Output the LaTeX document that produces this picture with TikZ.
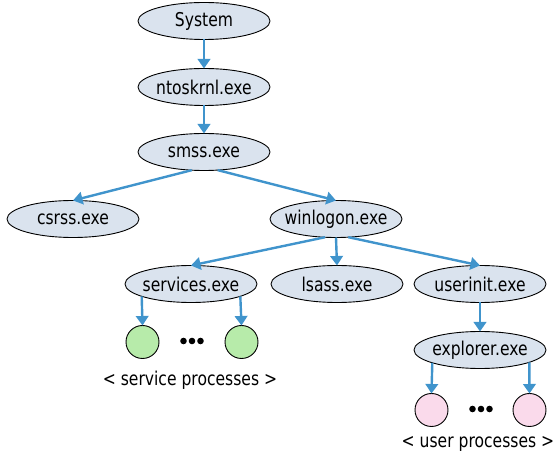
\documentclass[tikz,border=0pt]{standalone}
\usepackage{fontspec}
\setmainfont{DejaVu Sans}[FakeStretch=0.82]
\usetikzlibrary{shapes.geometric,arrows.meta}

\definecolor{arrowblue}{RGB}{64,148,204}
\definecolor{procfill}{RGB}{218,227,238}
\definecolor{svcfill}{RGB}{183,235,170}
\definecolor{userfill}{RGB}{250,218,235}

% zero-width label so the ellipse size comes from the minimum sizes only
\newcommand{\proclabel}[1]{\makebox[0pt]{#1}}

\tikzset{
  proc/.style={ellipse, draw=black, line width=0.9pt, fill=procfill,
    minimum width=132pt, minimum height=37pt, inner sep=0pt, outer sep=0pt,
    font=\fontsize{19}{22}\selectfont},
  leaf/.style={circle, draw=black, line width=0.9pt, minimum size=33pt,
    inner sep=0pt, outer sep=0pt},
  caption/.style={font=\fontsize{19}{22}\selectfont, inner sep=0pt},
  arr/.style={draw=arrowblue, line width=2.4pt,
    -{Triangle[width=12.5pt,length=9.5pt]}},
  dot/.style={circle, fill=black, inner sep=0pt, minimum size=6.6pt}
}

\begin{document}
\begin{tikzpicture}[x=1pt,y=-1pt]
\useasboundingbox (0,0) rectangle (558,457);

% process tree
\node[proc] (system)   at (204,21)  {\proclabel{System}};
\node[proc] (ntos)     at (204,87)  {\proclabel{ntoskrnl.exe}};
\node[proc] (smss)     at (204,152) {\proclabel{smss.exe}};
\node[proc] (csrss)    at (73,219)  {\proclabel{csrss.exe}};
\node[proc] (winlogon) at (336,219) {\proclabel{winlogon.exe}};
\node[proc] (services) at (191,284) {\proclabel{services.exe}};
\node[proc] (lsass)    at (337,284) {\proclabel{lsass.exe}};
\node[proc] (userinit) at (480,284) {\proclabel{userinit.exe}};
\node[proc] (explorer) at (480,350) {\proclabel{explorer.exe}};

% service processes
\node[leaf, fill=svcfill] (svc1) at (142.5,342) {};
\node[leaf, fill=svcfill] (svc2) at (241.5,342) {};
\node[dot] (sd1) at (183.5,341) {};
\node[dot] (sd2) at (192,341) {};
\node[dot] (sd3) at (200.5,341) {};
\node[caption] (svccap) at (190,380) {< service processes >};

% user processes
\node[leaf, fill=userfill] (usr1) at (431.5,410) {};
\node[leaf, fill=userfill] (usr2) at (529.5,410) {};
\node[dot] (ud1) at (472.5,409) {};
\node[dot] (ud2) at (481,409) {};
\node[dot] (ud3) at (489.5,409) {};
\node[caption] (usrcap) at (478,444) {< user processes >};

% connectors
\draw[arr] (system.south) -- (ntos.north);
\draw[arr] (ntos.south) -- (smss.north);
\draw[arr] (smss.236.6) -- (csrss.north);
\draw[arr] (smss.307.7) -- (winlogon.north);
\draw[arr] (winlogon.239) -- (services.north);
\draw[arr] (winlogon.south) -- (lsass.north);
\draw[arr] (winlogon.304) -- (userinit.north);
\draw[arr] (userinit.south) -- (explorer.north);
\draw[arr] (services.194) -- (svc1.north);
\draw[arr] (services.346) -- (svc2.north);
\draw[arr] (explorer.195) -- (usr1.north);
\draw[arr] (explorer.346) -- (usr2.north);
\end{tikzpicture}
\end{document}
